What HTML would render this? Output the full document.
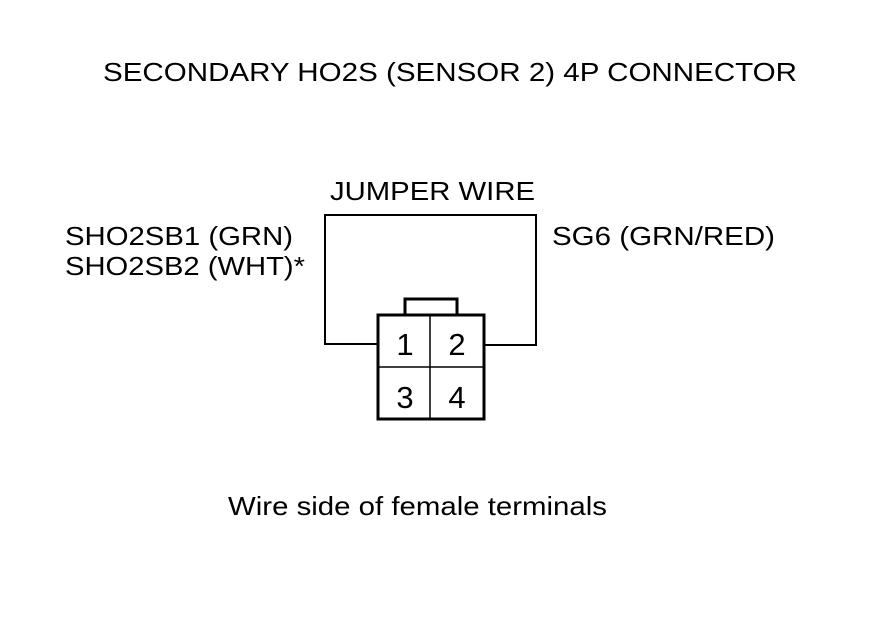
<!DOCTYPE html>
<html><head><style>
body{margin:0;background:#fff;}
svg text{font-family:"Liberation Sans",Arial,sans-serif;fill:#000;}
</style></head><body>
<svg width="880" height="630" viewBox="0 0 880 630" xmlns="http://www.w3.org/2000/svg">
<rect width="880" height="630" fill="#fff"/>
<text x="103" y="81" font-size="26" textLength="694" lengthAdjust="spacingAndGlyphs">SECONDARY HO2S (SENSOR 2) 4P CONNECTOR</text>
<text x="330" y="200" font-size="26" textLength="205" lengthAdjust="spacingAndGlyphs">JUMPER WIRE</text>
<text x="65" y="245" font-size="26" textLength="228" lengthAdjust="spacingAndGlyphs">SHO2SB1 (GRN)</text>
<text x="65" y="275" font-size="26" textLength="240" lengthAdjust="spacingAndGlyphs">SHO2SB2 (WHT)*</text>
<text x="552" y="245" font-size="26" textLength="223" lengthAdjust="spacingAndGlyphs">SG6 (GRN/RED)</text>
<polyline points="378,344 325,344 325,215 536,215 536,345 484,345" fill="none" stroke="#000" stroke-width="2"/>
<polyline points="405,315 405,299 457,299 457,315" fill="none" stroke="#000" stroke-width="3"/>
<rect x="378" y="315" width="106" height="104" fill="none" stroke="#000" stroke-width="3"/>
<line x1="430" y1="315" x2="430" y2="419" stroke="#000" stroke-width="1.5"/>
<line x1="378" y1="367" x2="484" y2="367" stroke="#000" stroke-width="1.5"/>
<text x="405" y="355" font-size="31" text-anchor="middle">1</text>
<text x="457" y="355" font-size="31" text-anchor="middle">2</text>
<text x="405" y="408" font-size="31" text-anchor="middle">3</text>
<text x="457" y="408" font-size="31" text-anchor="middle">4</text>
<text x="228" y="515" font-size="26" textLength="379" lengthAdjust="spacingAndGlyphs">Wire side of female terminals</text>
</svg>
</body></html>
